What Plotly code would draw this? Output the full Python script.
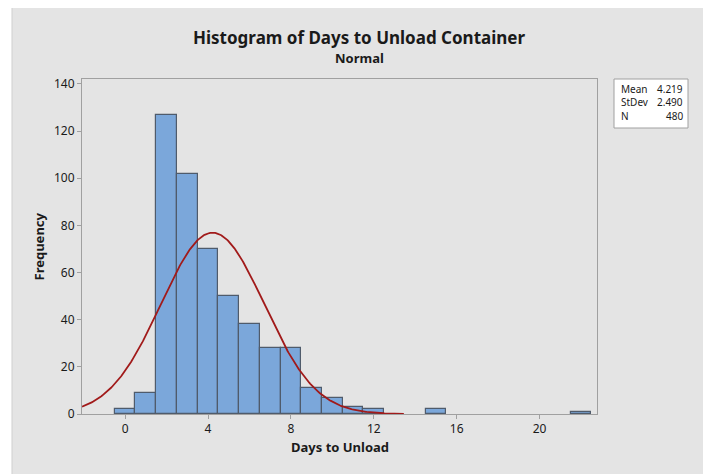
import numpy as np
import plotly.graph_objects as go

# Data
bin_centers = [0, 1, 2, 3, 4, 5, 6, 7, 8, 9, 10, 11, 12, 15, 22]
counts = [2, 9, 127, 102, 70, 50, 38, 28, 28, 11, 7, 3, 2, 2, 1]
mean_val = 4.219
stdev_val = 2.490
n_val = 480
x_ticks = [0, 4, 8, 12, 16, 20]
y_ticks = [0, 20, 40, 60, 80, 100, 120, 140]
stat_labels = ["Mean", "StDev", "N"]
stat_values = ["4.219", "2.490", "480"]

FONT = "Noto Sans"

# fitted normal curve (from stated mean / stdev, bin width 1)
xc = np.linspace(-2.08, 13.45, 400)
yc = n_val * 1.0 / (stdev_val * np.sqrt(2 * np.pi)) * np.exp(-0.5 * ((xc - mean_val) / stdev_val) ** 2)

fig = go.Figure()
fig.add_trace(go.Bar(
    x=bin_centers, y=counts, width=1,
    marker=dict(color="#7ba7da", line=dict(color="#4f5b6b", width=1.2)),
    showlegend=False, hoverinfo="x+y"))
fig.add_trace(go.Scatter(
    x=xc, y=yc, mode="lines", line=dict(color="#a11a1a", width=1.8),
    showlegend=False, hoverinfo="skip"))

OFF = 8  # page body margin
W, H = 711 - OFF, 474 - OFF
L, R, T, B = 82, 597, 79, 414  # plot area in page pixels


def px(x):
    return (x - L) / (R - L)


def py(y):
    return (B - y) / (B - T)


shapes = [
    dict(type="rect", xref="paper", yref="paper", x0=px(12), x1=px(706), y0=py(490), y1=py(4),
         fillcolor="#e4e4e4", line=dict(color="#cfcfcf", width=1), layer="below"),
    dict(type="rect", xref="paper", yref="paper", x0=px(614), x1=px(688), y0=py(128), y1=py(79),
         fillcolor="white", line=dict(color="#a0a0a0", width=1)),
]

annotations = [
    dict(text="<b>Histogram of Days to Unload Container</b>", x=px(359), y=py(38), xref="paper", yref="paper",
         showarrow=False, xanchor="center", yanchor="middle", font=dict(family=FONT, size=17, color="#1a1a1a")),
    dict(text="<b>Normal</b>", x=px(359), y=py(58), xref="paper", yref="paper",
         showarrow=False, xanchor="center", yanchor="middle", font=dict(family=FONT, size=13, color="#1a1a1a")),
    dict(text="<b>Days to Unload</b>", x=px(340), y=py(447), xref="paper", yref="paper",
         showarrow=False, xanchor="center", yanchor="middle", font=dict(family=FONT, size=13, color="#1a1a1a")),
    dict(text="<b>Frequency</b>", x=px(38), y=0.5, xref="paper", yref="paper", textangle=-90,
         showarrow=False, xanchor="center", yanchor="middle", font=dict(family=FONT, size=13, color="#1a1a1a")),
]
for i, (lab, val) in enumerate(zip(stat_labels, stat_values)):
    yy = py(89 + 13.3 * i)
    annotations.append(dict(text=lab, x=px(619), y=yy, xref="paper", yref="paper", showarrow=False,
                            xanchor="left", yanchor="middle", font=dict(family=FONT, size=10, color="#1a1a1a")))
    annotations.append(dict(text=val, x=px(685), y=yy, xref="paper", yref="paper", showarrow=False,
                            xanchor="right", yanchor="middle", font=dict(family=FONT, size=10, color="#1a1a1a")))

fig.update_layout(
    width=W, height=H,
    margin=dict(l=L - OFF, r=W - (R - OFF), t=T - OFF, b=H - (B - OFF), pad=0),
    paper_bgcolor="white", plot_bgcolor="white",
    bargap=0, shapes=shapes, annotations=annotations,
    font=dict(family=FONT, size=12, color="#1a1a1a"),
    xaxis=dict(range=[-2.08, 22.77], tickvals=x_ticks, ticks="outside", ticklen=4, tickcolor="#a0a0a0",
               showgrid=False, zeroline=False, showline=True, linecolor="#a0a0a0", linewidth=1, mirror=True,
               tickfont=dict(family=FONT, size=12, color="#1a1a1a")),
    yaxis=dict(range=[0, 142.1], tickvals=y_ticks, ticks="outside", ticklen=4, tickcolor="#a0a0a0",
               showgrid=False, zeroline=False, showline=True, linecolor="#a0a0a0", linewidth=1, mirror=True,
               tickfont=dict(family=FONT, size=12, color="#1a1a1a")),
)

fig.write_html("out.html")
